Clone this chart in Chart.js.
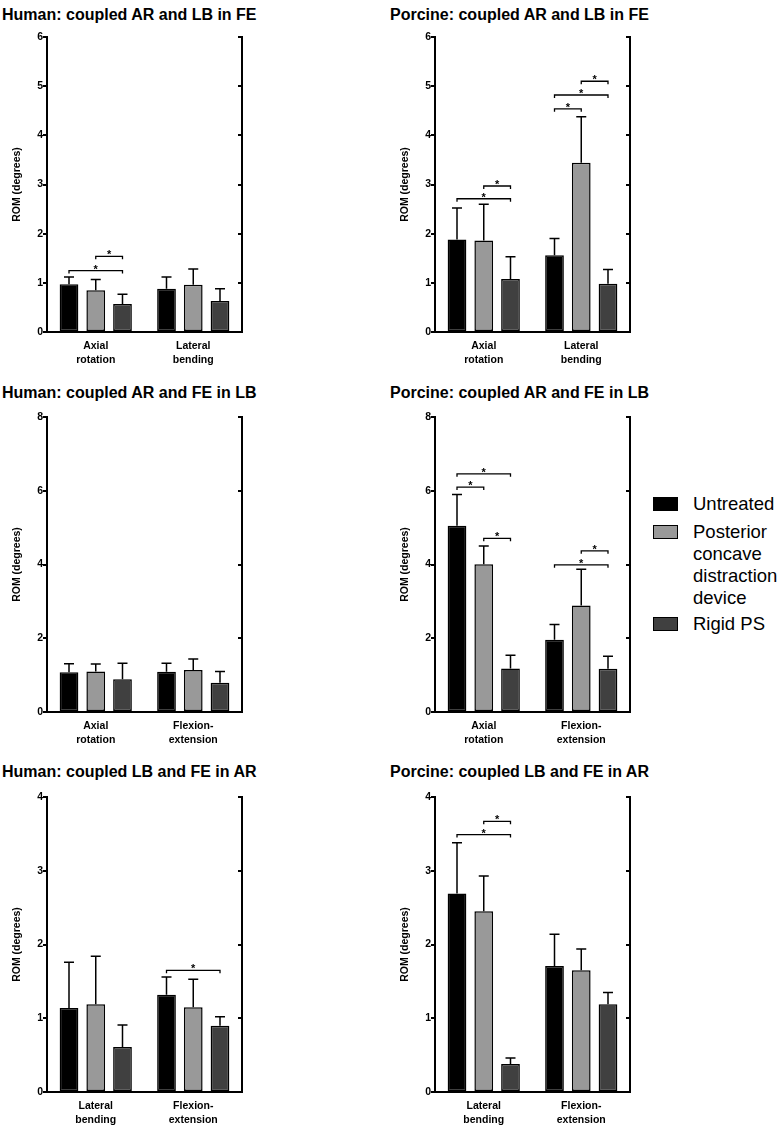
<!DOCTYPE html>
<html lang="en">
<head>
    <meta charset="UTF-8">
    <title>Coupled ROM: human vs porcine</title>
    <script src="https://cdn.jsdelivr.net/npm/chart.js"></script>
    <style>
        body { margin: 0; background: #fff; font-family: Arial, "Liberation Sans", sans-serif; color: #000; }
        #page { position: relative; width: 780px; height: 1127px; overflow: hidden; background: #fff; }
        .ttl { position: absolute; font-weight: bold; font-size: 16px; line-height: 16px; white-space: nowrap; }
        canvas { position: absolute; }
        .leg { position: absolute; left: 653px; font-size: 18.5px; line-height: 22px; }
        .leg .sw { position: absolute; left: 0; top: 4px; width: 23px; height: 12px; border: 1.5px solid #000; }
        .leg .tx { position: absolute; left: 40px; width: 88px; }
    </style>
</head>
<body>
<div id="page"></div>

<script>
    // series + categories
    const seriesNames = ['Untreated', 'Posterior concave distraction device', 'Rigid PS'];
    const seriesColors = ['#000000', '#999999', '#404040'];

    const catsARLB = [['Axial', 'rotation'], ['Lateral', 'bending']];
    const catsARFE = [['Axial', 'rotation'], ['Flexion-', 'extension']];
    const catsLBFE = [['Lateral', 'bending'], ['Flexion-', 'extension']];

    // mean ROM per series (untreated, posterior device, rigid PS), and SD (upper error bar)
    const humanFE_mean   = [[0.97, 0.88], [0.85, 0.96], [0.57, 0.63]];
    const humanFE_sd     = [[0.15, 0.24], [0.22, 0.32], [0.20, 0.25]];
    const porcineFE_mean = [[1.88, 1.56], [1.86, 3.44], [1.08, 0.98]];
    const porcineFE_sd   = [[0.64, 0.34], [0.74, 0.94], [0.45, 0.29]];

    const humanLB_mean   = [[1.08, 1.09], [1.10, 1.14], [0.89, 0.79]];
    const humanLB_sd     = [[0.23, 0.23], [0.20, 0.30], [0.43, 0.31]];
    const porcineLB_mean = [[5.05, 1.96], [4.01, 2.89], [1.18, 1.17]];
    const porcineLB_sd   = [[0.85, 0.41], [0.49, 0.98], [0.36, 0.34]];

    const humanAR_mean   = [[1.14, 1.32], [1.19, 1.15], [0.61, 0.90]];
    const humanAR_sd     = [[0.62, 0.24], [0.65, 0.38], [0.30, 0.12]];
    const porcineAR_mean = [[2.69, 1.71], [2.45, 1.65], [0.38, 1.19]];
    const porcineAR_sd   = [[0.69, 0.43], [0.48, 0.29], [0.08, 0.16]];

    // significance brackets: [category, from series, to series, height]
    const humanFE_sig   = [[0, 0, 2, 1.25], [0, 1, 2, 1.54]];
    const porcineFE_sig = [[0, 0, 2, 2.71], [0, 1, 2, 2.97], [1, 0, 1, 4.54], [1, 0, 2, 4.82], [1, 1, 2, 5.10]];
    const humanLB_sig   = [];
    const porcineLB_sig = [[0, 0, 1, 6.10], [0, 0, 2, 6.46], [0, 1, 2, 4.71], [1, 0, 2, 3.99], [1, 1, 2, 4.37]];
    const humanAR_sig   = [[1, 0, 2, 1.65]];
    const porcineAR_sig = [[0, 0, 2, 3.49], [0, 1, 2, 3.67]];

    // y axis ranges
    const yMax  = [6, 8, 4];
    const yStep = [1, 2, 1];

    const panels = [
        { title: 'Human: coupled AR and LB in FE',   cats: catsARLB, mean: humanFE_mean,   sd: humanFE_sd,   sig: humanFE_sig,   row: 0, col: 0 },
        { title: 'Porcine: coupled AR and LB in FE', cats: catsARLB, mean: porcineFE_mean, sd: porcineFE_sd, sig: porcineFE_sig, row: 0, col: 1 },
        { title: 'Human: coupled AR and FE in LB',   cats: catsARFE, mean: humanLB_mean,   sd: humanLB_sd,   sig: humanLB_sig,   row: 1, col: 0 },
        { title: 'Porcine: coupled AR and FE in LB', cats: catsARFE, mean: porcineLB_mean, sd: porcineLB_sd, sig: porcineLB_sig, row: 1, col: 1 },
        { title: 'Human: coupled LB and FE in AR',   cats: catsLBFE, mean: humanAR_mean,   sd: humanAR_sd,   sig: humanAR_sig,   row: 2, col: 0 },
        { title: 'Porcine: coupled LB and FE in AR', cats: catsLBFE, mean: porcineAR_mean, sd: porcineAR_sd, sig: porcineAR_sig, row: 2, col: 1 }
    ];

    const colLeft = [0, 388];
    const rowTop = [27, 407, 787];
    const titleTop = [6.5, 385, 764];

    // right axis, error bars and significance brackets
    const extras = {
        id: 'extras',
        afterDatasetsDraw(chart, args, opts) {
            const { ctx, chartArea: a } = chart;
            const y = chart.scales.y;
            ctx.save();
            ctx.strokeStyle = '#000';
            ctx.lineWidth = 2;
            ctx.beginPath();
            ctx.moveTo(a.right, a.top - 1);
            ctx.lineTo(a.right, a.bottom + 1);
            y.ticks.forEach(t => {
                const py = Math.round(y.getPixelForValue(t.value));
                ctx.moveTo(a.right, py);
                ctx.lineTo(a.right - 4, py);
            });
            ctx.stroke();

            ctx.lineWidth = 1.5;
            chart.data.datasets.forEach((ds, i) => {
                chart.getDatasetMeta(i).data.forEach((bar, j) => {
                    const yTop = y.getPixelForValue(ds.data[j] + ds.sd[j]);
                    ctx.beginPath();
                    ctx.moveTo(bar.x, bar.y);
                    ctx.lineTo(bar.x, yTop);
                    ctx.moveTo(bar.x - 5, yTop);
                    ctx.lineTo(bar.x + 5, yTop);
                    ctx.stroke();
                });
            });

            ctx.lineWidth = 1.3;
            ctx.font = 'bold 11px Arial';
            ctx.textAlign = 'center';
            ctx.fillStyle = '#000';
            (opts.sig || []).forEach(([cat, s1, s2, v]) => {
                const x1 = chart.getDatasetMeta(s1).data[cat].x;
                const x2 = chart.getDatasetMeta(s2).data[cat].x;
                const py = y.getPixelForValue(v);
                ctx.beginPath();
                ctx.moveTo(x1, py + 3);
                ctx.lineTo(x1, py);
                ctx.lineTo(x2, py);
                ctx.lineTo(x2, py + 3);
                ctx.stroke();
                ctx.fillText('*', (x1 + x2) / 2, py + 2);
            });
            ctx.restore();
        }
    };

    const page = document.getElementById('page');

    panels.forEach((p, k) => {
        const t = document.createElement('div');
        t.className = 'ttl';
        t.style.left = (colLeft[p.col] + 2) + 'px';
        t.style.top = titleTop[p.row] + 'px';
        t.textContent = p.title;
        page.appendChild(t);

        const c = document.createElement('canvas');
        c.width = 250;
        c.height = 345;
        c.style.left = colLeft[p.col] + 'px';
        c.style.top = rowTop[p.row] + 'px';
        page.appendChild(c);

        new Chart(c, {
            type: 'bar',
            data: {
                labels: p.cats,
                datasets: seriesNames.map((name, i) => ({
                    label: name,
                    data: p.mean[i],
                    sd: p.sd[i],
                    backgroundColor: seriesColors[i],
                    borderColor: '#000',
                    borderWidth: 1.5,
                    borderSkipped: false,
                    categoryPercentage: 0.823,
                    barPercentage: 0.70
                }))
            },
            options: {
                responsive: false,
                animation: false,
                layout: { padding: { top: 10, right: 8, left: 0, bottom: 0 } },
                plugins: {
                    legend: { display: false },
                    tooltip: { enabled: false },
                    extras: { sig: p.sig }
                },
                scales: {
                    x: {
                        grid: { display: false, drawTicks: false },
                        border: { display: true, color: '#000', width: 2 },
                        ticks: {
                            color: '#000', padding: 8, maxRotation: 0, autoSkip: false,
                            font: { family: 'Arial', weight: 'bold', size: 10.5, lineHeight: 1.25 }
                        },
                        afterFit(s) { s.height = 40; }
                    },
                    y: {
                        min: 0,
                        max: yMax[p.row],
                        ticks: {
                            stepSize: yStep[p.row], color: '#000', padding: 0,
                            font: { family: 'Arial', weight: 'bold', size: 10.5 }
                        },
                        grid: { drawOnChartArea: false, drawTicks: true, tickLength: 4, color: '#000', lineWidth: 2 },
                        border: { display: true, color: '#000', width: 2 },
                        title: {
                            display: true, text: 'ROM (degrees)', color: '#000',
                            font: { family: 'Arial', weight: 'bold', size: 10.5 },
                            padding: { top: 11, bottom: 0, left: 0, right: 0 }
                        },
                        afterFit(s) { s.width = 47; }
                    }
                }
            },
            plugins: [extras]
        });
    });

    // legend
    const legTops = [493, 521, 613];
    seriesNames.forEach((name, i) => {
        const d = document.createElement('div');
        d.className = 'leg';
        d.style.top = legTops[i] + 'px';
        d.innerHTML = '<div class="sw" style="background:' + seriesColors[i] + '"></div><div class="tx">' + name + '</div>';
        page.appendChild(d);
    });
</script>
</body>
</html>
